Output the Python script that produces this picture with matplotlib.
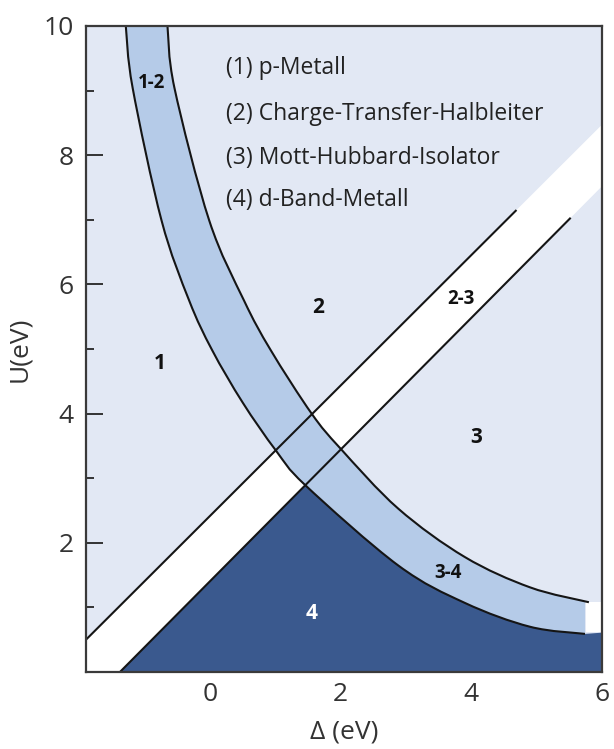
import numpy as np
import matplotlib
matplotlib.use("Agg")
import matplotlib.pyplot as plt
from matplotlib.path import Path
from matplotlib.patches import PathPatch

plt.rcParams['font.family'] = ['Open Sans', 'DejaVu Sans']

# Lower/left boundary of the 1-2 / 3-4 crossover band (Delta, U in eV)
band_lower_delta = [-1.29, -1.185, -0.743, -0.32, 0.033, 0.50, 1.007, 1.46, 2.88, 3.90, 4.90, 5.74]
band_lower_u     = [10.0, 9.04, 6.99, 5.75, 4.98, 4.17, 3.43, 2.89, 1.65, 1.07, 0.70, 0.59]

# Upper/right boundary of the band
band_upper_delta = [-0.652, -0.545, -0.013, 0.52, 0.93, 1.555, 1.996, 2.88, 3.90, 4.90, 5.80]
band_upper_u     = [10.0, 9.04, 6.99, 5.75, 4.98, 4.00, 3.46, 2.53, 1.78, 1.31, 1.08]

# 2-3 crossover: two straight boundaries (start / end points)
line_a_delta = [-1.9, 4.68]
line_a_u     = [0.50, 7.14]
line_b_delta = [-1.38, 5.51]
line_b_u     = [0.00, 7.02]

legend_lines = ["(1) p-Metall",
                "(2) Charge-Transfer-Halbleiter",
                "(3) Mott-Hubbard-Isolator",
                "(4) d-Band-Metall"]
legend_u = [9.35, 8.64, 7.96, 7.30]
legend_delta = 0.25

region_labels = ["1", "2", "3", "4"]
region_delta = [-0.77, 1.66, 4.07, 1.555]
region_u = [4.78, 5.64, 3.63, 0.90]

cross_labels = ["1-2", "2-3", "3-4"]
cross_delta = [-0.895, 3.84, 3.64]
cross_u = [9.12, 5.78, 1.53]

xlim = (-1.9, 5.95)
ylim = (0.0, 10.0)

C_BG = "#e2e8f4"
C_BAND = "#b5cbe8"
C_DARK = "#3a598e"
C_LINE = "#151515"


def smooth_segments(xs, ys):
    """Cubic Bezier pieces (Catmull-Rom) passing through the given points."""
    p = np.column_stack([xs, ys]).astype(float)
    n = len(p)
    segs = []
    for i in range(n - 1):
        p0 = p[i - 1] if i > 0 else p[i]
        p3 = p[i + 2] if i + 2 < n else p[i + 1]
        c1 = p[i] + (p[i + 1] - p0) / 6.0
        c2 = p[i + 1] - (p3 - p[i]) / 6.0
        segs.append((p[i], c1, c2, p[i + 1]))
    return segs


def curve_verts(segs, start, stop, reverse=False):
    verts, codes = [], []
    rng = range(start, stop)
    if reverse:
        rng = reversed(list(rng))
    for i in rng:
        a, c1, c2, b = segs[i]
        if reverse:
            a, c1, c2, b = b, c2, c1, a
        verts += [tuple(c1), tuple(c2), tuple(b)]
        codes += [Path.CURVE4] * 3
    return verts, codes


def line_at(dx, du, x):
    slope = (du[1] - du[0]) / (dx[1] - dx[0])
    return du[0] + slope * (x - dx[0])


fig = plt.figure(figsize=(6.14, 7.49), dpi=100)
ax = fig.add_axes([0.140, 0.1028, 0.8404, 0.8625])
ax.set_facecolor(C_BG)
ax.set_xlim(*xlim)
ax.set_ylim(*ylim)

low_segs = smooth_segments(band_lower_delta, band_lower_u)
up_segs = smooth_segments(band_upper_delta, band_upper_u)
n_low = len(band_lower_delta)
n_up = len(band_upper_delta)

# white 2-3 strip, extended to the frame
xs = np.array([xlim[0] - 1, xlim[1] + 1])
ax.fill_between(xs, line_at(line_b_delta, line_b_u, xs), line_at(line_a_delta, line_a_u, xs),
                color="white", lw=0, zorder=1)

# d-band metal region: below line b and the lower band boundary
peak = 7
verts = [(line_b_delta[0], -0.2), (line_b_delta[0], line_b_u[0]),
         (band_lower_delta[peak], band_lower_u[peak])]
codes = [Path.MOVETO, Path.LINETO, Path.LINETO]
v, c = curve_verts(low_segs, peak, n_low - 1)
verts += v
codes += c
verts += [(xlim[1] + 0.2, band_lower_u[-1] + 0.03), (xlim[1] + 0.2, -0.2), (line_b_delta[0], -0.2)]
codes += [Path.LINETO, Path.LINETO, Path.CLOSEPOLY]
ax.add_patch(PathPatch(Path(verts, codes), facecolor=C_DARK, lw=0, zorder=2))

# crossover band
verts = [(band_lower_delta[0], band_lower_u[0] + 0.3), (band_lower_delta[0], band_lower_u[0])]
codes = [Path.MOVETO, Path.LINETO]
v, c = curve_verts(low_segs, 0, n_low - 1)
verts += v
codes += c
verts += [(band_lower_delta[-1], band_upper_u[-1] + 0.02)]
codes += [Path.LINETO]
v, c = curve_verts(up_segs, 0, n_up - 1, reverse=True)
verts += v
codes += c
verts += [(band_upper_delta[0], band_upper_u[0] + 0.3), (band_lower_delta[0], band_lower_u[0] + 0.3)]
codes += [Path.LINETO, Path.CLOSEPOLY]
ax.add_patch(PathPatch(Path(verts, codes), facecolor=C_BAND, lw=0, zorder=3))

# unfilled strip at the band's right end
ax.fill([band_lower_delta[-1] + 0.02, xlim[1] + 0.2, xlim[1] + 0.2, band_lower_delta[-1] + 0.02],
        [band_lower_u[-1] + 0.03, band_lower_u[-1] + 0.03, band_upper_u[-1], band_upper_u[-1]],
        color="white", lw=0, zorder=3)

# boundary curves and lines
for segs, n in ((low_segs, n_low), (up_segs, n_up)):
    v, c = curve_verts(segs, 0, n - 1)
    path = Path([tuple(segs[0][0])] + v, [Path.MOVETO] + c)
    ax.add_patch(PathPatch(path, facecolor="none", edgecolor=C_LINE, lw=1.5, zorder=4))
ax.plot(line_a_delta, line_a_u, color=C_LINE, lw=1.5, zorder=4)
ax.plot(line_b_delta, line_b_u, color=C_LINE, lw=1.5, zorder=4)

for txt, u in zip(legend_lines, legend_u):
    ax.text(legend_delta, u, txt, fontsize=16.5, color="#222222", ha="left", va="center", zorder=5)

for txt, dx, u in zip(region_labels, region_delta, region_u):
    ax.text(dx, u, txt, fontsize=15, fontweight="bold", ha="center", va="center",
            color="white" if txt == "4" else "#111111", zorder=5)

for txt, dx, u in zip(cross_labels, cross_delta, cross_u):
    ax.text(dx, u, txt, fontsize=13.5, fontweight="bold", ha="center", va="center",
            color="#111111", zorder=5)

ax.set_xticks([0, 2, 4, 6])
ax.set_xticks([-1, 1, 3, 5], minor=True)
ax.set_yticks([2, 4, 6, 8, 10])
ax.set_yticks([1, 3, 5, 7, 9], minor=True)
ax.tick_params(which="major", direction="in", length=12, width=1.4, colors="#333333",
               labelsize=19, pad=7)
ax.tick_params(which="minor", direction="in", length=6, width=1.4, colors="#333333")
ax.tick_params(axis="y", which="major", pad=9)
for s in ax.spines.values():
    s.set_linewidth(1.6)
    s.set_color("#3a3a3a")
    s.set_zorder(6)

ax.set_xlabel("\u0394 (eV)", fontsize=19, color="#333333", labelpad=9)
ax.set_ylabel("U(eV)", fontsize=19, color="#333333", labelpad=8)

fig.savefig("out.png", dpi=100)
